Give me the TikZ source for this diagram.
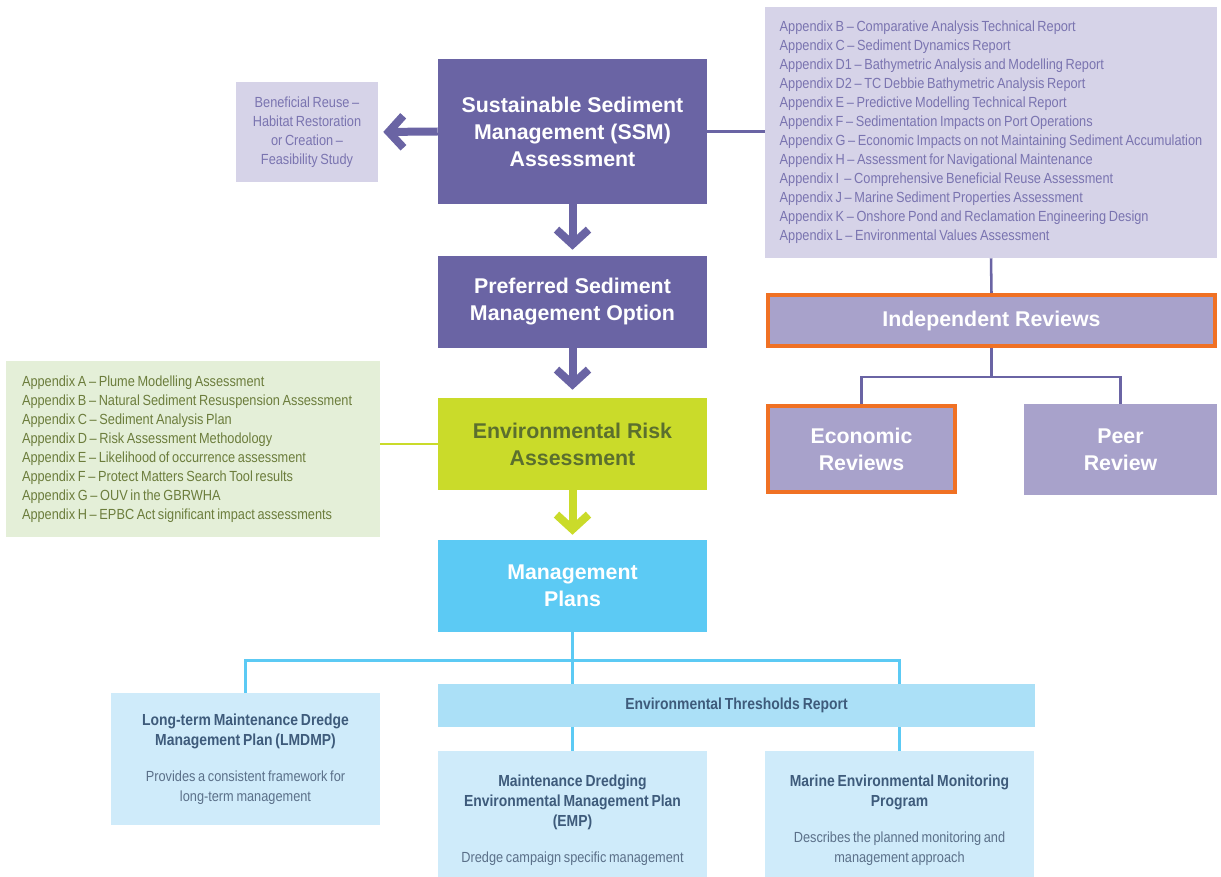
\documentclass[tikz,border=0pt]{standalone}
\usepackage{fontspec}
\setmainfont{Liberation Sans}
\newfontfamily\cond[FakeStretch=0.87, WordSpace=0.75]{Liberation Sans}
\usetikzlibrary{arrows.meta}
\definecolor{dpurple}{HTML}{6A64A4}
\definecolor{lav}{HTML}{D6D3E8}
\definecolor{midlav}{HTML}{A8A2CB}
\definecolor{ltxt}{HTML}{7A74B0}
\definecolor{orng}{HTML}{F07124}
\definecolor{lime}{HTML}{CADB2A}
\definecolor{lgreen}{HTML}{E4EFD8}
\definecolor{gtxt}{HTML}{6C7D3C}
\definecolor{etxt}{HTML}{5B6F2E}
\definecolor{sky}{HTML}{5CCAF4}
\definecolor{lsky}{HTML}{CFEBFA}
\definecolor{msky}{HTML}{ABE0F7}
\definecolor{dtxt}{HTML}{3E5B7B}
\definecolor{desc}{HTML}{5B7089}
\begin{document}
\begin{tikzpicture}[x=0.75pt,y=-0.75pt,
  box/.style 2 args={draw=none, minimum width=#1*0.75pt, minimum height=#2*0.75pt, inner sep=0pt, align=center},
  head/.style={font=\fontsize{16}{20.25}\selectfont\bfseries},
  list/.style={font=\cond\fontsize{11}{14.25}\selectfont},
  sub/.style={font=\cond\fontsize{12}{15}\selectfont, text=dtxt},
  orbox/.style={draw=orng, line width=3pt},
  bigarrow/.style={line width=6pt, -{Straight Barb[length=11pt, width=24pt, sharp]}, shorten >=3.75pt},
  pline/.style={draw=dpurple, line width=1.9pt},
  bline/.style={draw=sky, line width=2.25pt},
]
\useasboundingbox (0,0) rectangle (1221,877);

% top row
\node[box={269}{145}, fill=dpurple, text=white, head] (ssm) at (572.5,131.5) {Sustainable Sediment\\Management (SSM)\\Assessment};
\node[box={142}{100}, fill=lav, text=ltxt, list] (ben) at (307,132) {Beneficial Reuse –\\Habitat Restoration\\or Creation –\\Feasibility Study};
\node[box={452}{251}, fill=lav, text=ltxt, list, align=left] (appR) at (991,132.5) {Appendix B – Comparative Analysis Technical Report\\
Appendix C – Sediment Dynamics Report\\
Appendix D1 – Bathymetric Analysis and Modelling Report\\
Appendix D2 – TC Debbie Bathymetric Analysis Report\\
Appendix E – Predictive Modelling Technical Report\\
Appendix F – Sedimentation Impacts on Port Operations\\
Appendix G – Economic Impacts on not Maintaining Sediment Accumulation\\
Appendix H – Assessment for Navigational Maintenance\\
Appendix I \ – Comprehensive Beneficial Reuse Assessment\\
Appendix J – Marine Sediment Properties Assessment\\
Appendix K – Onshore Pond and Reclamation Engineering Design\\
Appendix L – Environmental Values Assessment};

% reviews
\node[box={447}{51}, fill=midlav, orbox, text=white, head] (ir) at (991.5,320.5) {Independent Reviews};
\node[box={187}{86}, fill=midlav, orbox, text=white, head] (eco) at (861.5,449) {Economic\\Reviews};
\node[box={193}{91}, fill=midlav, text=white, head] (peer) at (1120.5,449.5) {Peer\\Review};

% middle column
\node[box={269}{92}, fill=dpurple, text=white, head] (pref) at (572.5,302) {Preferred Sediment\\Management Option};
\node[box={269}{92}, fill=lime, text=etxt, head] (era) at (572.5,444) {Environmental Risk\\Assessment};
\node[box={374}{176}, fill=lgreen, text=gtxt, list, align=flush left, text width=342*0.75pt] (green) at (193,449) {Appendix A – Plume Modelling Assessment\\
Appendix B – Natural Sediment Resuspension Assessment\\
Appendix C – Sediment Analysis Plan\\
Appendix D – Risk Assessment Methodology\\
Appendix E – Likelihood of occurrence assessment\\
Appendix F – Protect Matters Search Tool results\\
Appendix G – OUV in the GBRWHA\\
Appendix H – EPBC Act significant impact assessments};
\node[box={269}{92}, fill=sky, text=white, head] (mp) at (572.5,586) {Management\\Plans};

% bottom
\node[box={269}{132}, fill=lsky, sub] (lm) at (245.5,759) {\textbf{Long-term Maintenance Dredge}\\\textbf{Management Plan (LMDMP)}\\[12pt]\textcolor{desc}{\fontsize{11}{15}\selectfont Provides a consistent framework for}\\\textcolor{desc}{\fontsize{11}{15}\selectfont long-term management}};
\node[box={597}{43}, fill=msky, sub] (etr) at (736.5,705.5) {\textbf{Environmental Thresholds Report}};
\node[box={269}{138}, fill=lsky, sub] (emp) at (572.5,820) {\textbf{Maintenance Dredging}\\\textbf{Environmental Management Plan}\\\textbf{(EMP)}\\[12pt]\textcolor{desc}{\fontsize{11}{15}\selectfont Dredge campaign specific management}};
\node[box={269}{138}, fill=lsky, sub] (memp) at (899.5,820) {\textbf{Marine Environmental Monitoring}\\\textbf{Program}\\[12pt]\textcolor{desc}{\fontsize{11}{15}\selectfont Describes the planned monitoring and}\\\textcolor{desc}{\fontsize{11}{15}\selectfont management approach}};

% connectors
\draw[bigarrow, dpurple] (ssm.west) -- (ben.east);
\draw[bigarrow, dpurple, shorten >=4.5pt] (ssm.south) -- (pref.north);
\draw[bigarrow, dpurple, shorten >=6pt] (pref.south) -- (era.north);
\draw[bigarrow, lime] (era.south) -- (mp.north);
\draw[pline] (ssm.east) -- (ssm.east -| appR.west);
\draw[pline] (appR.south) -- (ir.north);
\draw[pline] (ir.south) -- ++(0,29) coordinate (k);
\draw[pline] (eco.north) |- (k) -| (peer.north);
\draw[draw=lime, line width=1.9pt] (green.east |- era.west) -- (era.west);
\draw[bline] (mp.south) -- ++(0,28) coordinate (j);
\draw[bline] (lm.north) |- (j) -| (etr.north -| memp.north);
\draw[bline] (j) -- (etr.north -| mp.south);
\draw[bline] (etr.south -| emp.north) -- (emp.north);
\draw[bline] (etr.south -| memp.north) -- (memp.north);
\end{tikzpicture}
\end{document}
